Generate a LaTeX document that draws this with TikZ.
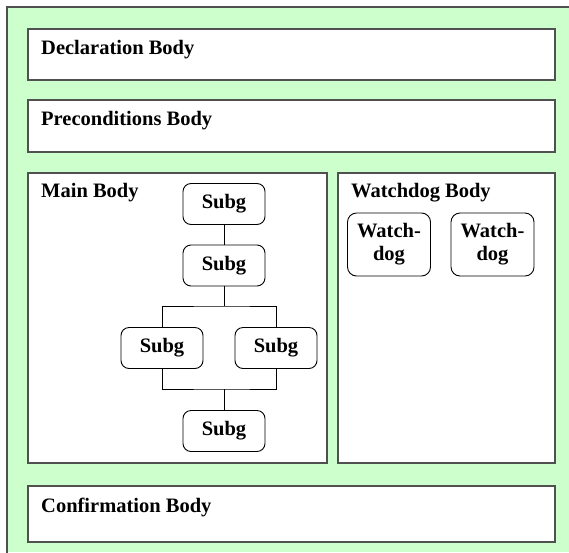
\documentclass[tikz,border=0pt]{standalone}
\usepackage{fontspec}
\setmainfont{Liberation Serif}
\definecolor{bggreen}{HTML}{CCFFCC}
\definecolor{edgegray}{HTML}{505050}
\begin{document}
\begin{tikzpicture}[x=1pt,y=-1pt,
  body/.style={draw=edgegray,fill=white,line width=1.2pt},
  lbl/.style={anchor=base west,inner sep=0pt,font=\fontsize{20.5}{23}\selectfont\bfseries},
  subg/.style={draw=black,fill=white,rounded corners=8pt,line width=0.9pt,
    minimum width=82pt,minimum height=41pt,inner sep=0pt,
    font=\fontsize{20.5}{23}\selectfont\bfseries},
  wdog/.style={draw=black,fill=white,rounded corners=9pt,line width=0.9pt,
    minimum width=83pt,minimum height=63pt,inner sep=0pt,align=center,
    font=\fontsize{20.5}{23}\selectfont\bfseries},
  conn/.style={draw=black,line width=0.9pt}]
\useasboundingbox (0,0) rectangle (569,552);
\fill[bggreen] (7,7) rectangle (569,552);
\draw[edgegray,line width=1.6pt] (7,560) -- (7,7) -- (575,7);
% bodies
\draw[body] (28,29) rectangle (555,80);
\node[lbl] (decl) at (41,54) {Declaration Body};
\draw[body] (28,100) rectangle (555,152);
\node[lbl] (pre) at (41,125.5) {Preconditions Body};
\draw[body] (28,173) rectangle (327,463);
\node[lbl] (main) at (41,197) {Main Body};
\draw[body] (338,173) rectangle (555,463);
\node[lbl] (wd) at (351,197) {Watchdog Body};
\draw[body] (28,486) rectangle (555,542);
\node[lbl] (conf) at (41,512) {Confirmation Body};
% subgraphs
\node[subg] (s1) at (224,204) {Subg};
\node[subg] (s2) at (224,265.5) {Subg};
\node[subg] (s3) at (162,348) {Subg};
\node[subg] (s4) at (276,348) {Subg};
\node[subg] (s5) at (224,431) {Subg};
\coordinate (split) at (224,306);
\coordinate (join) at (224,389);
\draw[conn] (s1) -- (s2);
\draw[conn] (s2) -- (split);
\draw[conn] (s3.north) |- (split) -| (s4.north);
\draw[conn] (s3.south) |- (join) -| (s4.south);
\draw[conn] (join) -- (s5);
% watchdogs
\node[wdog] (w1) at (389,244.5) {Watch-\\dog};
\node[wdog] (w2) at (492.5,244.5) {Watch-\\dog};
\end{tikzpicture}
\end{document}
